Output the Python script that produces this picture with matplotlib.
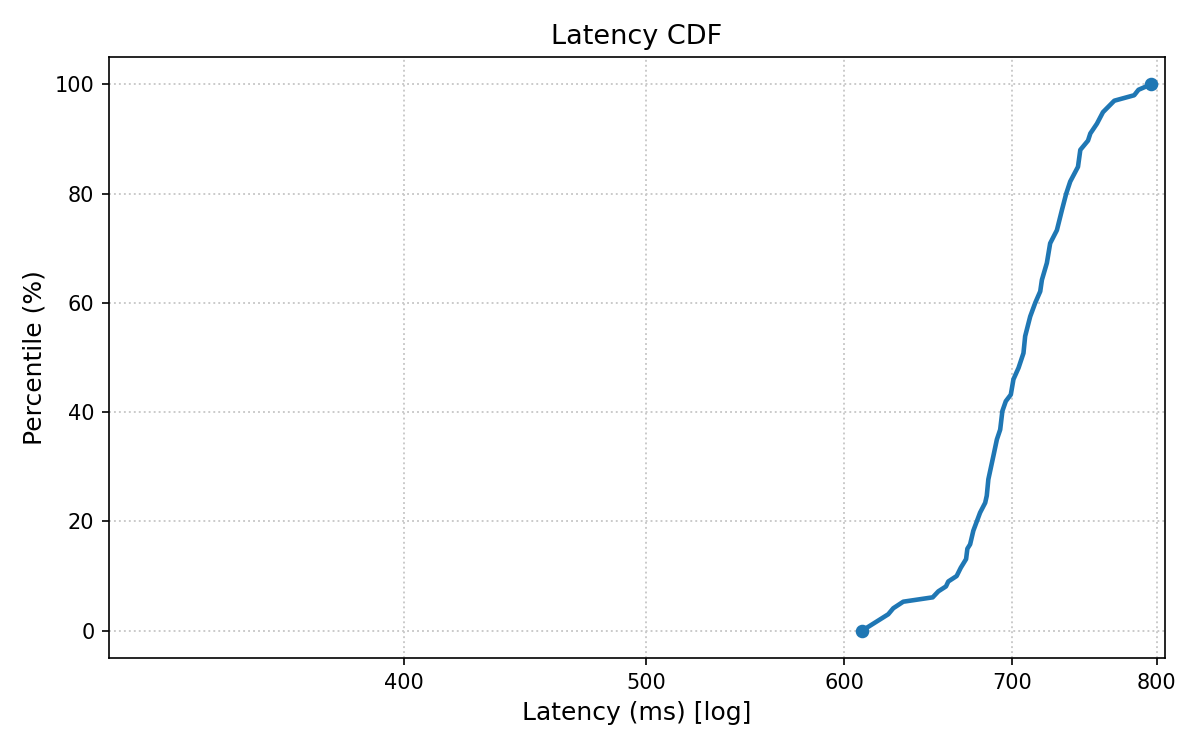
import matplotlib
matplotlib.use("Agg")
import matplotlib.pyplot as plt
from matplotlib.ticker import FixedLocator, NullLocator, FixedFormatter

# latency values (ms), with their percentile
latency_ms = [
    610.0, 624.8, 627.7, 633.5, 650.9, 654.3, 658.9, 660.3, 665.4, 667.9,
    671.2, 672.0, 673.7, 675.7, 679.9, 683.1, 684.1, 685.1, 688.3, 690.5,
    692.6, 694.0, 696.2, 699.4, 701.1, 704.4, 707.6, 708.7, 712.0, 715.3,
    718.6, 719.7, 723.0, 725.2, 729.7, 733.1, 736.0, 738.7, 744.0, 745.6,
    750.9, 752.5, 757.1, 761.3, 769.3, 783.5, 786.6, 795.8,
]
percentile = [
    0.0, 3.0, 4.1, 5.3, 6.1, 7.2, 8.1, 9.0, 10.0, 11.5,
    13.1, 15.0, 15.8, 18.3, 21.6, 23.4, 24.7, 27.7, 32.0, 35.0,
    36.8, 40.2, 42.0, 43.2, 46.0, 48.1, 50.8, 53.9, 57.5, 60.0,
    62.1, 64.2, 67.3, 70.9, 73.3, 77.0, 80.0, 82.2, 84.9, 88.0,
    89.7, 91.0, 92.8, 94.9, 97.0, 98.0, 99.0, 100.0,
]
x_ticks = [400, 500, 600, 700, 800]
y_ticks = [0, 20, 40, 60, 80, 100]

fig = plt.figure(figsize=(8, 5), dpi=150)
ax = fig.add_axes([0.0908, 0.1227, 0.88, 0.8013])

ax.plot(latency_ms, percentile, color="#1f77b4", lw=2.2,
        marker="o", markersize=5.5, markevery=[0, len(latency_ms) - 1])

ax.set_xscale("log")
ax.set_xlim(305, 806)
ax.set_ylim(-5, 105)
ax.xaxis.set_major_locator(FixedLocator(x_ticks))
ax.xaxis.set_major_formatter(FixedFormatter([str(t) for t in x_ticks]))
ax.xaxis.set_minor_locator(NullLocator())
ax.set_yticks(y_ticks)
ax.tick_params(labelsize=10)

ax.grid(True, linestyle=":", color="#c8c8c8", linewidth=0.9)
ax.set_title("Latency CDF", fontsize=13)
ax.set_xlabel("Latency (ms) [log]", fontsize=12)
ax.set_ylabel("Percentile (%)", fontsize=12)

fig.savefig("out.png", dpi=150)
